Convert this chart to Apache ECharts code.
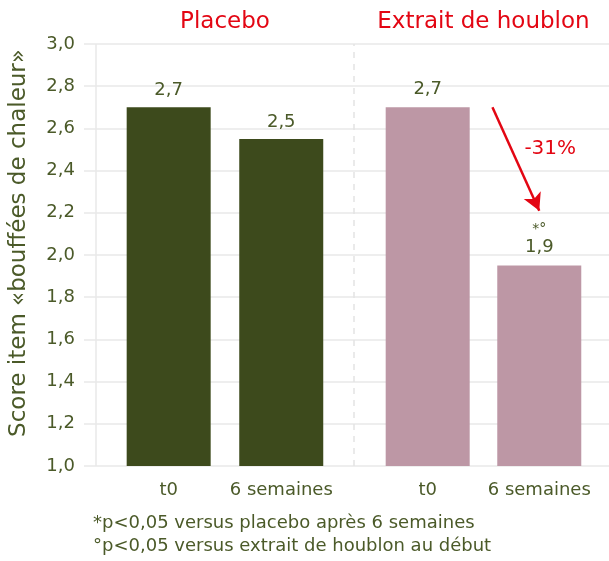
<!DOCTYPE html>
<html>
<head>
<meta charset="utf-8">
<script src="https://cdn.jsdelivr.net/npm/echarts@6/dist/echarts.min.js"></script>
<style>
  html, body { margin: 0; padding: 0; background: #fff; }
  #chart { width: 609px; height: 561px; }
</style>
</head>
<body>
<div id="chart"></div>
<script>
// ---- data ----
const groups = ['Placebo', 'Extrait de houblon'];
const categories = ['t0', '6 semaines', 't0', '6 semaines'];
const placeboValues = [2.7, 2.55];
const houblonValues = [2.7, 1.95];
const placeboLabels = ['2,7', '2,5'];
const houblonLabels = ['2,7', '1,9'];
const houblonMarks = ['', '*°'];
const changeLabel = '-31%';
const yMin = 1.0, yMax = 3.0, yStep = 0.2;
const yTitle = 'Score item «bouffées de chaleur»';
const footnotes = [
  '*p<0,05 versus placebo après 6 semaines',
  '°p<0,05 versus extrait de houblon au début'
];

// ---- layout (axis units along x) ----
const xSpan = 527;
const slotX = [85, 198, 345, 457];
const groupX = [(slotX[0] + slotX[1]) / 2, (slotX[2] + slotX[3]) / 2];
const axisLineX = 12;
const dividerX = 271;
const arrowFrom = [slotX[2] + 65, 2.7];
const arrowTo = [slotX[3], 2.21];
const changePos = [slotX[3] + 11, 2.505];

const FONT = 'DejaVu Sans';
const OLIVE = '#4b5a29';
const RED = '#e30613';
const C_PLACEBO = '#3d4a1c';
const C_HOUBLON = '#bd97a5';

const chart = echarts.init(document.getElementById('chart'), null, { renderer: 'canvas' });

chart.setOption({
  animation: false,
  textStyle: { fontFamily: FONT },
  grid: { left: 82, right: 0, top: 44, bottom: 95, containLabel: false },
  xAxis: [
    {
      type: 'value', min: 0, max: xSpan, position: 'bottom',
      axisLine: { show: false }, axisTick: { show: false }, splitLine: { show: false },
      axisLabel: {
        customValues: slotX,
        formatter: v => categories[slotX.indexOf(v)] || '',
        color: OLIVE, fontSize: 18, fontFamily: FONT, margin: 15
      }
    },
    {
      type: 'value', min: 0, max: xSpan, position: 'top',
      axisLine: { show: false }, axisTick: { show: false }, splitLine: { show: false },
      axisLabel: {
        customValues: groupX,
        formatter: v => groups[groupX.indexOf(v)] || '',
        color: RED, fontSize: 23, fontFamily: FONT, margin: 10
      }
    }
  ],
  yAxis: {
    type: 'value', min: yMin, max: yMax, interval: yStep,
    name: yTitle, nameLocation: 'middle', nameGap: 53,
    nameTextStyle: { color: OLIVE, fontSize: 23, fontFamily: FONT, padding: [0, 0, 0, 24] },
    axisLine: { show: false }, axisTick: { show: false },
    splitLine: { lineStyle: { color: '#e9e9e9', width: 1.5 } },
    axisLabel: {
      formatter: v => v.toFixed(1).replace('.', ','),
      color: OLIVE, fontSize: 18, fontFamily: FONT, margin: 9
    }
  },
  series: [
    {
      name: groups[0], type: 'bar', barWidth: 84, barGap: '-100%',
      itemStyle: { color: C_PLACEBO },
      data: placeboValues.map((v, i) => [slotX[i], v]),
      label: {
        show: true, position: 'top', distance: 8,
        formatter: p => placeboLabels[p.dataIndex],
        color: OLIVE, fontSize: 18, fontFamily: FONT
      },
      markLine: {
        silent: true, symbol: 'none', animation: false,
        label: { show: false },
        data: [
          { xAxis: axisLineX, lineStyle: { color: '#e9e9e9', width: 1.5, type: 'solid' } },
          { xAxis: dividerX, lineStyle: { color: '#e3e3e3', width: 1.5, type: [6, 6] } }
        ]
      }
    },
    {
      name: groups[1], type: 'bar', barWidth: 84, barGap: '-100%',
      itemStyle: { color: C_HOUBLON },
      data: houblonValues.map((v, i) => [slotX[i + 2], v]),
      label: {
        show: true, position: 'top', distance: 7,
        formatter: p => houblonMarks[p.dataIndex]
          ? '{m|' + houblonMarks[p.dataIndex] + '}\n{v|' + houblonLabels[p.dataIndex] + '}'
          : '{v|' + houblonLabels[p.dataIndex] + '}',
        rich: {
          m: { color: OLIVE, fontSize: 14, fontFamily: FONT, lineHeight: 14, align: 'center' },
          v: { color: OLIVE, fontSize: 18, fontFamily: FONT, lineHeight: 22, align: 'center' }
        }
      },
      markLine: {
        silent: true, animation: false,
        symbol: ['none', 'arrow'], symbolSize: [14, 17],
        label: { show: false },
        lineStyle: { color: RED, width: 2.5, type: 'solid' },
        data: [[{ coord: arrowFrom }, { coord: arrowTo }]]
      },
      markPoint: {
        silent: true, animation: false,
        symbol: 'circle', symbolSize: 0,
        label: {
          show: true, position: 'inside', formatter: changeLabel,
          color: RED, fontSize: 20, fontFamily: FONT
        },
        data: [{ coord: changePos }]
      }
    }
  ],
  graphic: footnotes.map((t, i) => ({
    type: 'text', left: 93, top: 514 + i * 23,
    style: { text: t, fill: OLIVE, font: '18px "' + FONT + '"' }
  }))
});
</script>
</body>
</html>
